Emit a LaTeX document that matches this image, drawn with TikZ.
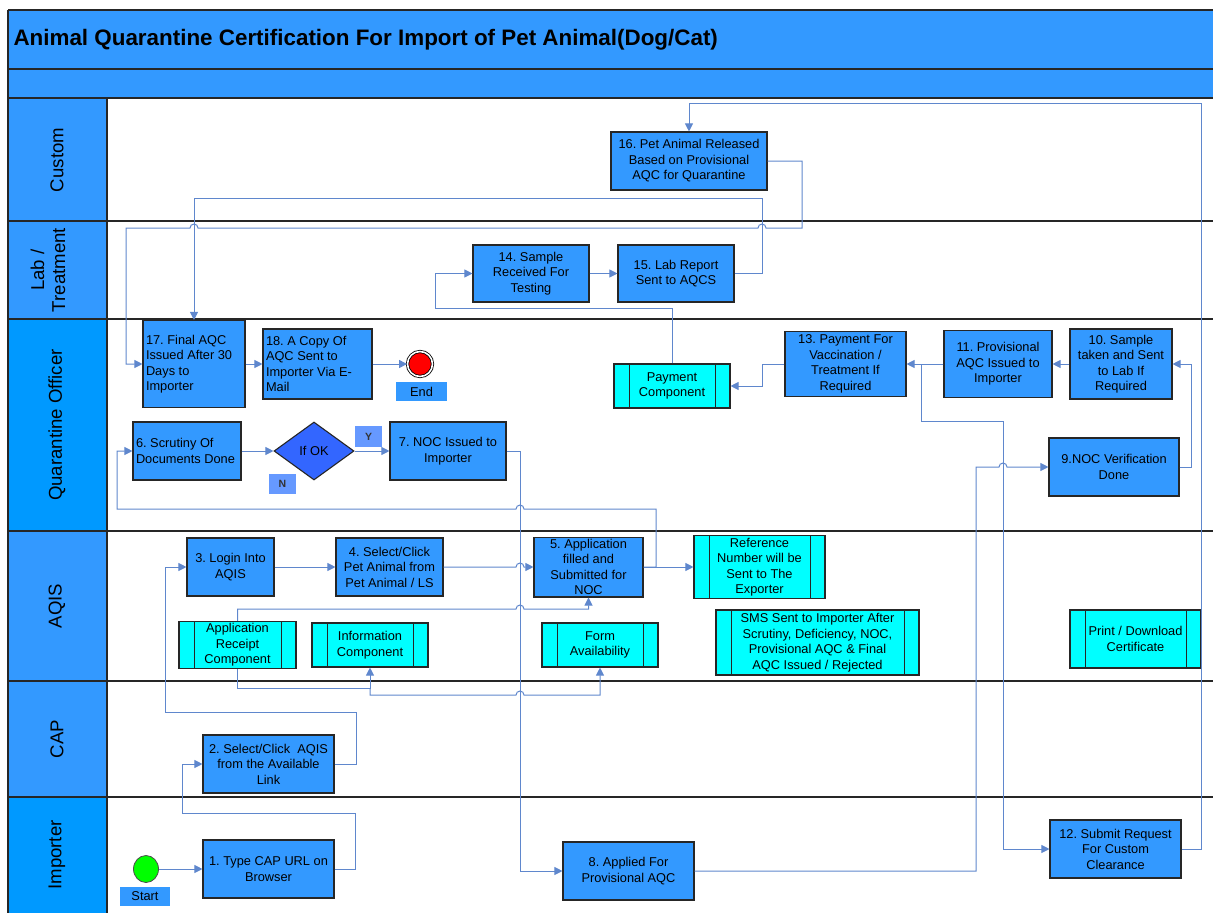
\documentclass[tikz,border=0pt]{standalone}
\usepackage{fontspec}
\setmainfont{Liberation Sans}
\usepackage{tikz}
\usetikzlibrary{arrows.meta}
\usetikzlibrary{shapes.geometric}
\definecolor{boxblue}{RGB}{51,153,255}
\definecolor{lanedeep}{RGB}{0,153,255}
\definecolor{compcyan}{RGB}{0,255,255}
\definecolor{decblue}{RGB}{51,102,255}
\definecolor{tagblue}{RGB}{102,153,255}
\definecolor{flowline}{RGB}{95,135,205}
\definecolor{startgreen}{RGB}{0,255,0}
\newcommand{\boxfont}{\fontsize{12.8}{15.5}\selectfont}
\newcommand{\lanefont}{\fontsize{18.6}{21}\selectfont}
\frenchspacing

\begin{document}
\begin{tikzpicture}[x=1pt,y=-1pt,
  task/.style={draw=black!85,line width=1.1pt,fill=boxblue,inner sep=2pt,align=center,font=\boxfont},
  sz/.style 2 args={minimum width=#1pt,minimum height=#2pt},
  comp/.style={task,fill=compcyan,path picture={
      \draw[line width=0.9pt] ([xshift=15pt]path picture bounding box.north west) -- ([xshift=15pt]path picture bounding box.south west);
      \draw[line width=0.9pt] ([xshift=-15pt]path picture bounding box.north east) -- ([xshift=-15pt]path picture bounding box.south east);}},
  tag/.style={fill=boxblue,inner sep=0pt,font=\boxfont},
  yn/.style={fill=tagblue,inner sep=0pt,font=\bfseries\fontsize{10.5}{12}\selectfont,text=black!80},
  flow/.style={draw=flowline,line width=1pt,-{Triangle[length=8pt,width=8pt]}},
  frame/.style={draw=black!85,line width=1.5pt},
  lane/.style={rotate=90,font=\lanefont,align=center}]
  \useasboundingbox (0,0) rectangle (1213,913);

  % title rows and swimlanes
  \fill[boxblue] (8,10) rectangle (1213,98);
  \fill[boxblue] (8,98) rectangle (107,319);
  \fill[lanedeep] (8,319) rectangle (107,531);
  \fill[boxblue] (8,531) rectangle (107,797);
  \fill[lanedeep] (8,797) rectangle (107,913);
  \foreach \y in {10,69,98,221,319,531,681,797}
    \draw[frame] (8,\y) -- (1213,\y);
  \draw[frame] (8,10) -- (8,913);
  \draw[frame] (107,98) -- (107,913);

  \node[anchor=west,font=\bfseries\fontsize{22.4}{26}\selectfont] (title) at (10,40)
    {Animal Quarantine Certification For Import of Pet Animal(Dog/Cat)};

  \node[lane] (lcustom) at (57,160) {Custom};
  \node[lane] (llab) at (48,270) {Lab /\\Treatment};
  \node[lane] (lqo) at (57,425) {Quarantine Officer};
  \node[lane] (laqis) at (57,606) {AQIS};
  \node[lane] (lcap) at (57,739) {CAP};
  \node[lane] (limp) at (57,855) {Importer};

  % Custom
  \node[task,sz={156}{58}] (n16) at (689,161) {16. Pet Animal Released\\Based on Provisional\\AQC for Quarantine};
  % Lab / Treatment
  \node[task,sz={116}{57}] (n14) at (531,273.5) {14. Sample\\Received For\\Testing};
  \node[task,sz={116}{57}] (n15) at (676,273.5) {15. Lab Report\\Sent to AQCS};
  % Quarantine Officer
  \node[task,sz={102}{87},text width=96pt,align=flush left] (n17) at (194,364) {17. Final AQC\\Issued After 30\\Days to\\Importer};
  \node[task,sz={109}{70},text width=103pt,align=flush left] (n18) at (317.5,364) {18. A Copy Of\\AQC Sent to\\Importer Via E-\\Mail};
  \node[circle,draw=black,double=white,double distance=1.6pt,line width=0.8pt,fill=red,minimum size=25pt,inner sep=0pt] (finish) at (420,364) {};
  \node[tag,sz={51}{19}] (endlbl) at (421.5,391.5) {End};
  \node[comp,sz={116}{44}] (pay) at (672,386) {Payment\\Component};
  \node[task,sz={121}{65}] (n13) at (845.5,364) {13. Payment For\\Vaccination /\\Treatment If\\Required};
  \node[task,sz={108}{67}] (n11) at (998,364) {11. Provisional\\AQC Issued to\\Importer};
  \node[task,sz={102}{70}] (n10) at (1121,364) {10. Sample\\taken and Sent\\to Lab If\\Required};
  \node[task,sz={108}{58},text width=102pt,align=flush left] (n6) at (187,451) {6. Scrutiny Of\\Documents Done};
  \node[diamond,draw=black!85,line width=1.1pt,fill=decblue,sz={80}{58},inner sep=0pt,font=\boxfont] (ifok) at (314,451) {If OK};
  \node[yn,sz={27}{21}] (yes) at (368.5,436.5) {Y};
  \node[yn,sz={27}{20}] (no) at (282.5,484) {N};
  \node[task,sz={116}{58}] (n7) at (448,451) {7. NOC Issued to\\Importer};
  \node[task,sz={130}{58}] (n9) at (1114,467) {9.NOC Verification\\Done};
  % AQIS
  \node[task,sz={87}{58}] (n3) at (230.5,567) {3. Login Into\\AQIS};
  \node[task,sz={107}{58}] (n4) at (389.5,567) {4. Select/Click\\Pet Animal from\\Pet Animal / LS};
  \node[task,sz={109}{58}] (n5) at (588.5,567) {5. Application\\filled and\\Submitted for\\NOC};
  \node[comp,sz={131}{58}] (ref) at (759.5,567) {Reference\\Number will be\\Sent to The\\Exporter};
  \node[comp,sz={117}{44}] (apprc) at (237.5,645) {Application\\Receipt\\Component};
  \node[comp,sz={116}{44}] (info) at (370,645) {Information\\Component};
  \node[comp,sz={116}{44}] (form) at (600,645) {Form\\Availability};
  \node[comp,sz={203}{65}] (sms) at (817.5,642.5) {SMS Sent to Importer After\\Scrutiny, Deficiency, NOC,\\Provisional AQC \& Final\\AQC Issued / Rejected};
  \node[comp,sz={131}{58}] (print) at (1135.5,639) {Print / Download\\Certificate};
  % CAP
  \node[task,sz={131}{58}] (n2) at (268.5,764) {2. Select/Click\ \ AQIS\\from the Available\\Link};
  % Importer
  \node[ellipse,draw=black!70,line width=0.8pt,fill=startgreen,sz={25}{27},inner sep=0pt] (start) at (146,869) {};
  \node[tag,sz={50}{19}] (startlbl) at (145,896.5) {Start};
  \node[task,sz={131}{58}] (n1) at (268.5,869) {1. Type CAP URL on\\Browser};
  \node[task,sz={131}{58}] (n8) at (628.5,871) {8. Applied For\\Provisional AQC};
  \node[task,sz={131}{58}] (n12) at (1115.5,849) {12. Submit Request\\For Custom\\Clearance};

  % connectors
  \draw[flow] (start) -- (n1);
  \draw[flow] (n1.east) -- (355,869) -- (355,813) -- (182,813) -- (182,764) -- (n2.west);
  \draw[flow] (n2.east) -- (356,764) -- (356,712) -- (165,712) -- (165,567) -- (n3.west);
  \draw[flow] (n3) -- (n4);
  \draw[flow] (n4.east) -- (516,567) arc[start angle=180,end angle=360,radius=4] -- (n5.west);
  \draw[flow] (n5) -- (ref);
  \draw[flow] (n5.east) -- (656,567) -- (656,509) -- (524,509) arc[start angle=0,end angle=-180,radius=4] -- (117,509) -- (117,451) -- (n6.west);
  \draw[flow] (n6) -- (ifok);
  \draw[flow] (ifok) -- (n7);
  \draw[flow] (n7.east) -- (520,451) -- (520,871) -- (n8.west);
  \draw[flow] (n8.east) -- (976,871) -- (976,467) -- (999,467) arc[start angle=180,end angle=360,radius=4] -- (n9.west);
  \draw[flow] (n9.east) -- (1191,467) -- (1191,364) -- (n10.east);
  \draw[flow] (n10) -- (n11);
  \draw[flow] (n11) -- (n13);
  \draw[flow] (n11.west) -- (921,364) -- (921,421) -- (1003,421) -- (1003,849) -- (n12.west);
  \draw[flow] (n13.west) -- (762,364) -- (762,386) -- (pay.east);
  \draw[flow] (pay.north) -- (672,308) -- (435,308) -- (435,273.5) -- (n14.west);
  \draw[flow] (n14) -- (n15);
  \draw[flow] (n15.east) -- (762,273.5) -- (762,198) -- (194,198) -- (n17.north);
  \draw[flow] (n16.east) -- (802,161) -- (802,228) -- (766,228) arc[start angle=0,end angle=-180,radius=4]
    -- (198,228) arc[start angle=0,end angle=-180,radius=4] -- (126,228) -- (126,364) -- (n17.west);
  \draw[flow] (n17) -- (n18);
  \draw[flow] (n18) -- (finish);
  \draw[flow] (n12.east) -- (1201,849) -- (1201,103) -- (689,103) -- (n16.north);
  \draw[flow] (apprc.north) -- (237.5,609) -- (516,609) arc[start angle=180,end angle=360,radius=4] -- (588.5,609) -- (n5.south);
  \draw[flow] (apprc.south) -- (237.5,688) -- (370,688) -- (info.south);
  \coordinate (split) at (370,688);
  \draw[flow] (split) -- (370,695) -- (516,695) arc[start angle=180,end angle=360,radius=4] -- (600,695) -- (form.south);
\end{tikzpicture}
\end{document}
